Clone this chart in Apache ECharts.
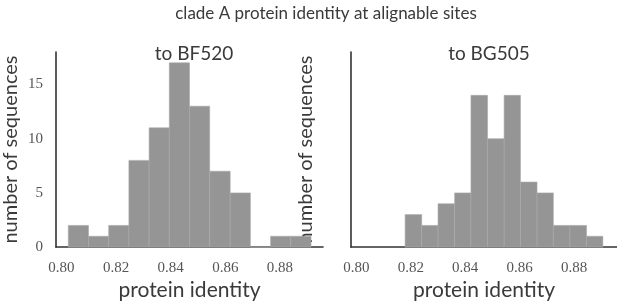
<!DOCTYPE html>
<html>
<head>
<meta charset="utf-8">
<script src="https://cdn.jsdelivr.net/npm/echarts@6/dist/echarts.min.js"></script>
<style>
  html, body { margin: 0; padding: 0; background: #fff; }
  #chart { width: 617px; height: 306px; }
</style>
</head>
<body>
<div id="chart"></div>
<script>
// histogram bin edges + counts
const bf520Edges = [0.8025, 0.8099, 0.8173, 0.8247, 0.8321, 0.8395, 0.8469, 0.8543, 0.8618, 0.8692, 0.8766, 0.8840, 0.8914];
const bf520Counts = [2, 1, 2, 8, 11, 17, 13, 7, 5, 0, 1, 1];
const bg505Edges = [0.8179, 0.8240, 0.8300, 0.8361, 0.8421, 0.8482, 0.8543, 0.8603, 0.8664, 0.8724, 0.8785, 0.8846, 0.8906];
const bg505Counts = [3, 2, 4, 5, 14, 10, 14, 6, 5, 2, 2, 1];
const xTicks = [0.80, 0.82, 0.84, 0.86, 0.88];
const yTicks = [0, 5, 10, 15];

const sans = 'Lato';
const serif = 'Liberation Serif';
const textColor = '#3a3a3a';

function toBins(edges, counts) {
  return counts.map((c, i) => [edges[i], edges[i + 1], c]);
}

function renderBin(params, api) {
  const p0 = api.coord([api.value(0), api.value(2)]);
  const p1 = api.coord([api.value(1), 0]);
  return {
    type: 'rect',
    shape: { x: p0[0], y: p0[1], width: p1[0] - p0[0], height: p1[1] - p0[1] },
    style: { fill: '#959595', stroke: '#a9a9a9', lineWidth: 0.6 }
  };
}

const spine = { show: true, lineStyle: { color: '#333', width: 1.6 } };

function xAxis(idx) {
  return {
    type: 'value', gridIndex: idx, min: 0.798, max: 0.8958,
    name: 'protein identity', nameLocation: 'middle', nameGap: 30,
    nameTextStyle: { fontFamily: sans, fontSize: 21, color: textColor },
    axisLine: spine, axisTick: { show: false }, splitLine: { show: false },
    axisLabel: {
      customValues: xTicks, margin: 13,
      fontFamily: serif, fontSize: 15, color: '#555',
      formatter: v => v.toFixed(2)
    }
  };
}

function yAxis(idx, withLabels) {
  return {
    type: 'value', gridIndex: idx, min: 0, max: 18,
    name: 'number of sequences', nameLocation: 'middle', nameGap: 35,
    nameTextStyle: { fontFamily: sans, fontSize: 20, color: textColor },
    axisLine: spine, axisTick: { show: false }, splitLine: { show: false },
    axisLabel: {
      show: withLabels, customValues: yTicks, margin: 13,
      fontFamily: serif, fontSize: 15, color: '#555'
    }
  };
}

const chart = echarts.init(document.getElementById('chart'));
chart.setOption({
  animation: false,
  title: [
    { text: 'clade A protein identity at alignable sites', left: 321, top: 0, textAlign: 'center',
      textStyle: { fontFamily: sans, fontSize: 17, fontWeight: 'normal', color: textColor } },
    { text: 'to BF520', left: 189, top: 39, textAlign: 'center',
      textStyle: { fontFamily: sans, fontSize: 19, fontWeight: 'normal', color: textColor } },
    { text: 'to BG505', left: 484, top: 39, textAlign: 'center',
      textStyle: { fontFamily: sans, fontSize: 19, fontWeight: 'normal', color: textColor } }
  ],
  grid: [
    { left: 56, width: 267, top: 52, bottom: 55 },
    { left: 351, width: 266, top: 52, bottom: 55 }
  ],
  xAxis: [xAxis(0), xAxis(1)],
  yAxis: [yAxis(0, true), yAxis(1, false)],
  series: [
    { type: 'custom', xAxisIndex: 0, yAxisIndex: 0, renderItem: renderBin,
      encode: { x: [0, 1], y: 2 }, data: toBins(bf520Edges, bf520Counts) },
    { type: 'custom', xAxisIndex: 1, yAxisIndex: 1, renderItem: renderBin,
      encode: { x: [0, 1], y: 2 }, data: toBins(bg505Edges, bg505Counts) }
  ]
});
</script>
</body>
</html>
